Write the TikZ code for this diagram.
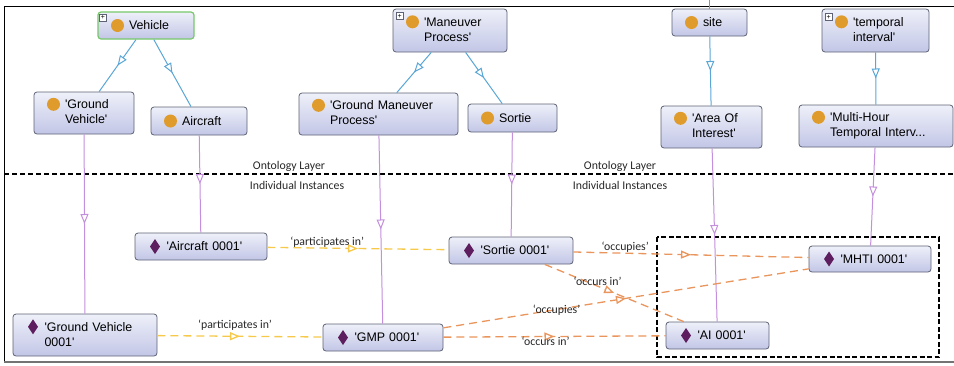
\documentclass[tikz,border=0pt]{standalone}
\usepackage{fontspec}
\setmainfont{Liberation Sans}
\newfontfamily\lblfont{Carlito}
\usetikzlibrary{arrows.meta,decorations.markings}
\definecolor{boxtop}{HTML}{EEF0F9}
\definecolor{boxbot}{HTML}{C2C6E6}
\definecolor{boxline}{HTML}{5D6275}
\definecolor{vehgreen}{HTML}{77C86A}
\definecolor{dotorange}{HTML}{E09B2D}
\definecolor{diapurple}{HTML}{5E1D5E}
\definecolor{isablue}{HTML}{5AA6D6}
\definecolor{iopurple}{HTML}{C48FDC}
\definecolor{partyellow}{HTML}{F6C94A}
\definecolor{occorange}{HTML}{E9955C}
\newcommand{\q}{\textquotesingle}
\newcommand{\two}[2]{\begin{tabular}[t]{@{}l@{}}#1\\#2\end{tabular}}
\newcommand{\clsdot}{\tikz[baseline=-4.4pt, sharp corners]\fill[dotorange] (0pt,0pt) circle (6.5pt);\hspace{5pt}}
\newcommand{\inddia}{\tikz[baseline=-4.4pt, sharp corners]\fill[diapurple] (0pt,7.5pt) -- (5pt,0pt) -- (0pt,-7.5pt) -- (-5pt,0pt) -- cycle;\hspace{6.5pt}}

\begin{document}
\begin{tikzpicture}[x=1pt,y=-1pt]
\tikzstyle{every node}+=[inner sep=0pt]
\tikzstyle{box}=[draw=boxline, line width=0.8pt, rounded corners=3pt, top color=boxtop, bottom color=boxbot, align=left, font=\fontsize{12.4}{15}\selectfont]
\tikzstyle{cls}=[box, inner xsep=13pt]
\tikzstyle{ind}=[box, inner xsep=15pt]
\tikzstyle{plusbox}=[draw=boxline, fill=white, line width=0.4pt, sharp corners, minimum size=7pt, font=\fontsize{7}{7}\selectfont]
\tikzstyle{lbl}=[text=black!85, font=\lblfont\fontsize{11.8}{13}\selectfont]
\tikzstyle{midtip}=[decoration={markings, mark=at position 0.5 with {\arrow{Triangle[length=10pt, width=8pt, fill=white]}}}, postaction={decorate}]
\tikzstyle{isa}=[isablue, line width=1pt, midtip]
\tikzstyle{io}=[iopurple, line width=1pt, midtip]
\tikzstyle{part}=[partyellow, line width=1.3pt, dash pattern=on 8pt off 5pt, midtip]
\tikzstyle{occ}=[occorange, line width=1.3pt, dash pattern=on 8pt off 5pt, midtip]
\useasboundingbox (0,0) rectangle (954,365);
% frame and layer split
\draw [line width=0.8pt] (954,6) -- (4,6) -- (4,362);
\draw [black!55, line width=1.5pt] (4,362) -- (954,362);
\draw [line width=1.6pt, dash pattern=on 5pt off 3pt] (4,174) -- (954,174);
\node [lbl] (ont1) at (289,166) {Ontology Layer};
\node [lbl] (ont2) at (620,166) {Ontology Layer};
\node [lbl] (inst1) at (297,185) {Individual Instances};
\node [lbl] (inst2) at (620,185) {Individual Instances};
\draw [line width=1.8pt, dash pattern=on 5pt off 2.5pt] (657,237) rectangle (939,357);
% classes
\node [cls, draw=vehgreen, line width=1.2pt, text width=70pt, minimum height=27pt] (veh) at (146,25.5) {\clsdot Vehicle};
\node [cls, text width=74pt, minimum height=42pt] (gv) at (84,113) {\clsdot\two{\q Ground}{Vehicle\q}};
\node [cls, text width=70pt, minimum height=28pt] (air) at (199,121) {\clsdot Aircraft};
\node [cls, text width=88pt, minimum height=43pt] (mp) at (450,30.5) {\clsdot\two{\q Maneuver}{Process\q}};
\node [cls, text width=133pt, minimum height=42pt] (gmp) at (378.5,114) {\clsdot\two{\q Ground Maneuver}{Process\q}};
\node [cls, text width=63pt, minimum height=28pt] (sor) at (512.5,118) {\clsdot Sortie};
\node [cls, text width=49pt, minimum height=27pt] (site) at (709.5,22.5) {\clsdot site};
\node [cls, text width=81pt, minimum height=43pt] (ti) at (875.5,30.5) {\clsdot\two{\q temporal}{interval\q}};
\node [cls, text width=75pt, minimum height=42pt] (aoi) at (711.5,127) {\clsdot\two{\q Area Of}{Interest\q}};
\node [cls, text width=128pt, minimum height=42pt] (mhti) at (876,126) {\clsdot\two{\q Multi-Hour}{Temporal Interv...}};
\node [plusbox] (vehplus) at ([shift={(5.5,6.5)}]veh.north west) {+};
\node [plusbox] (mpplus) at ([shift={(7,7.5)}]mp.north west) {+};
\node [plusbox] (tiplus) at ([shift={(7,8.5)}]ti.north west) {+};
% individuals
\node [ind, text width=102pt, minimum height=27pt] (air1) at (201,246.5) {\inddia\q Aircraft 0001\q};
\node [ind, text width=114pt, minimum height=42pt] (gv1) at (85,335) {\inddia\two{\q Ground Vehicle}{0001\q}};
\node [ind, text width=90pt, minimum height=27pt] (gmp1) at (383,337.5) {\inddia\q GMP 0001\q};
\node [ind, text width=94pt, minimum height=27pt] (sor1) at (511,250.5) {\inddia\q Sortie 0001\q};
\node [ind, text width=92pt, minimum height=26pt] (mhti1) at (870,259) {\inddia\q MHTI 0001\q};
\node [ind, text width=73pt, minimum height=27pt] (ai1) at (717.5,335.5) {\inddia\q AI 0001\q};
% subclass links
\draw [isa] (veh) -- (gv);
\draw [isa] (veh) -- (air);
\draw [isa] (mp) -- (gmp);
\draw [isa] (mp) -- (sor);
\draw [isa] (site) -- (aoi);
\draw [isa] (ti) -- (mhti);
\coordinate (siteup) at (709.5,0);
\draw [isablue, line width=1pt] (site) -- (siteup);
% instance links
\draw [io] (gv) -- (gv1);
\draw [io] (air) -- (air1);
\draw [io] (gmp) -- (gmp1);
\draw [io] (sor) -- (sor1);
\draw [io] (aoi) -- (ai1);
\draw [io] (mhti) -- (mhti1);
% object properties
\draw [part] (air1) -- node [lbl, pos=0.33, above] (lp1) {‘participates in’} (sor1);
\draw [part] (gv1) -- node [lbl, pos=0.47, above=5pt] (lp2) {‘participates in’} (gmp1);
\draw [occ] (sor1) -- node [lbl, pos=0.22, above] (lo1) {‘occupies’} (mhti1);
\draw [occ] (sor1) -- node [lbl, pos=0.38, above] (lc1) {‘occurs in’} (ai1);
\draw [occ] (gmp1) -- node [lbl, pos=0.31, yshift=-1pt] (lo2) {‘occupies’} (mhti1);
\draw [occ] (gmp1) -- node [lbl, pos=0.46, below] (lc2) {‘occurs in’} (ai1);
\end{tikzpicture}
\end{document}
